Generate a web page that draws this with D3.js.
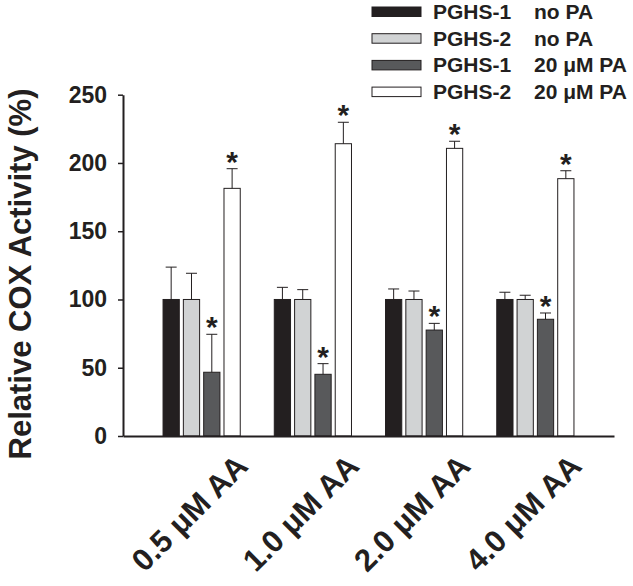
<!DOCTYPE html>
<html>
<head>
<meta charset="utf-8">
<script src="https://cdn.jsdelivr.net/npm/d3@7"></script>
<style>
    body { margin: 0; background: #fff; }
    text { font-family: "Liberation Sans", Arial, sans-serif; font-weight: bold; fill: #231f20; }
</style>
</head>
<body>
<div id="chart"></div>
<script>
// doses on the x axis
var doses = ["0.5 μM AA", "1.0 μM AA", "2.0 μM AA", "4.0 μM AA"]

// legend text, one entry per series
var seriesNames = ["PGHS-1", "PGHS-2", "PGHS-1", "PGHS-2"]
var seriesConds = ["no PA", "no PA", "20 μM PA", "20 μM PA"]

// relative activity (%) and error bars
var pghs1NoPa = [100, 100, 100, 100]
var pghs1NoPaErr = [23.7, 8.9, 7.7, 5.3]
var pghs2NoPa = [100, 100, 100, 100]
var pghs2NoPaErr = [19.2, 7.2, 6.2, 3.1]
var pghs1Pa = [46.7, 45.2, 77.6, 85.5]
var pghs1PaErr = [27.8, 7.8, 4.9, 4.6]
var pghs2Pa = [181.4, 214.1, 210.7, 188.5]
var pghs2PaErr = [14.4, 15.7, 5.2, 5.8]

// which series got a significance star
var starred = [false, false, true, true]

var yTicks = [0, 50, 100, 150, 200, 250]

var fills = ["#231f20", "#d1d3d4", "#58595b", "#ffffff"]
var ink = "#231f20"

var values = [pghs1NoPa, pghs2NoPa, pghs1Pa, pghs2Pa]
var errors = [pghs1NoPaErr, pghs2NoPaErr, pghs1PaErr, pghs2PaErr]

var w = 633
var h = 586

var svg = d3.select("#chart").append("svg")
    .attr("width", w)
    .attr("height", h)

var y = d3.scaleLinear().domain([0, 250]).range([436, 94.7])

var x0 = d3.scaleBand().domain(doses).range([123, 614])
    .paddingInner(0.306).paddingOuter(0.36)

var x1 = d3.scaleBand().domain(d3.range(values.length)).range([0, x0.bandwidth()])
    .paddingInner(0.2)

// flatten into one row per bar
var bars = []
doses.forEach(function(dose, i){
    values.forEach(function(vals, s){
        bars.push({dose: dose, s: s, v: vals[i], e: errors[s][i]})
    })
})

var barG = svg.append("g")

barG.selectAll("rect.bar")
    .data(bars)
    .enter()
    .append("rect")
    .attr("class", "bar")
    .attr("x", function(d){ return x0(d.dose) + x1(d.s) })
    .attr("y", function(d){ return y(d.v) })
    .attr("width", x1.bandwidth())
    .attr("height", function(d){ return y(0) - y(d.v) })
    .attr("fill", function(d){ return fills[d.s] })
    .attr("stroke", ink)
    .attr("stroke-width", 1)

// error bars, top half only
var capW = 11
barG.selectAll("line.err")
    .data(bars)
    .enter()
    .append("line")
    .attr("class", "err")
    .attr("x1", function(d){ return x0(d.dose) + x1(d.s) + x1.bandwidth() / 2 })
    .attr("x2", function(d){ return x0(d.dose) + x1(d.s) + x1.bandwidth() / 2 })
    .attr("y1", function(d){ return y(d.v) })
    .attr("y2", function(d){ return y(d.v + d.e) })
    .attr("stroke", ink)
    .attr("stroke-width", 1)

barG.selectAll("line.cap")
    .data(bars)
    .enter()
    .append("line")
    .attr("class", "cap")
    .attr("x1", function(d){ return x0(d.dose) + x1(d.s) + x1.bandwidth() / 2 - capW / 2 })
    .attr("x2", function(d){ return x0(d.dose) + x1(d.s) + x1.bandwidth() / 2 + capW / 2 })
    .attr("y1", function(d){ return y(d.v + d.e) })
    .attr("y2", function(d){ return y(d.v + d.e) })
    .attr("stroke", ink)
    .attr("stroke-width", 1)

barG.selectAll("text.star")
    .data(bars.filter(function(d){ return starred[d.s] }))
    .enter()
    .append("text")
    .attr("class", "star")
    .attr("x", function(d){ return x0(d.dose) + x1(d.s) + x1.bandwidth() / 2 })
    .attr("y", function(d){ return y(d.v + d.e) + 3 })
    .attr("text-anchor", "middle")
    .style("font-size", "30px")
    .text("*")

// y axis
var yAxis = svg.append("g")
    .attr("transform", "translate(123,0)")
    .call(d3.axisLeft(y).tickValues(yTicks).tickSize(5).tickSizeOuter(0).tickPadding(11))
yAxis.select(".domain").attr("stroke", ink).attr("stroke-width", 2)
yAxis.selectAll(".tick line").attr("stroke", ink).attr("stroke-width", 1.5)
yAxis.selectAll(".tick text")
    .attr("fill", ink)
    .style("font-size", "23px")
    .style("font-family", "'Liberation Sans', Arial, sans-serif")
    .style("font-weight", "bold")

// x axis with slanted labels
var xAxis = svg.append("g")
    .attr("transform", "translate(0,436)")
    .call(d3.axisBottom(x0).tickSize(0).tickSizeOuter(0))
xAxis.select(".domain").attr("stroke", ink).attr("stroke-width", 2)
xAxis.selectAll(".tick text")
    .attr("y", 0)
    .attr("dy", 0)
    .attr("transform", "translate(48,32) rotate(-45)")
    .attr("fill", ink)
    .style("text-anchor", "end")
    .style("font-size", "31px")
    .style("font-family", "'Liberation Sans', Arial, sans-serif")
    .style("font-weight", "bold")

svg.append("text")
    .attr("transform", "translate(31,274) rotate(-90)")
    .attr("text-anchor", "middle")
    .style("font-size", "31px")
    .text("Relative COX Activity (%)")

// legend
var leg = svg.append("g").selectAll("g")
    .data(seriesNames)
    .enter()
    .append("g")
    .attr("transform", function(d, i){ return "translate(372," + (7 + i * 26.7) + ")" })

leg.append("rect")
    .attr("width", 49)
    .attr("height", 9.5)
    .attr("fill", function(d, i){ return fills[i] })
    .attr("stroke", ink)
    .attr("stroke-width", 1)

leg.append("text")
    .attr("x", 61)
    .attr("y", 12)
    .style("font-size", "21px")
    .text(function(d){ return d })

leg.append("text")
    .attr("x", 162)
    .attr("y", 12)
    .style("font-size", "21px")
    .text(function(d, i){ return seriesConds[i] })
</script>
</body>
</html>
